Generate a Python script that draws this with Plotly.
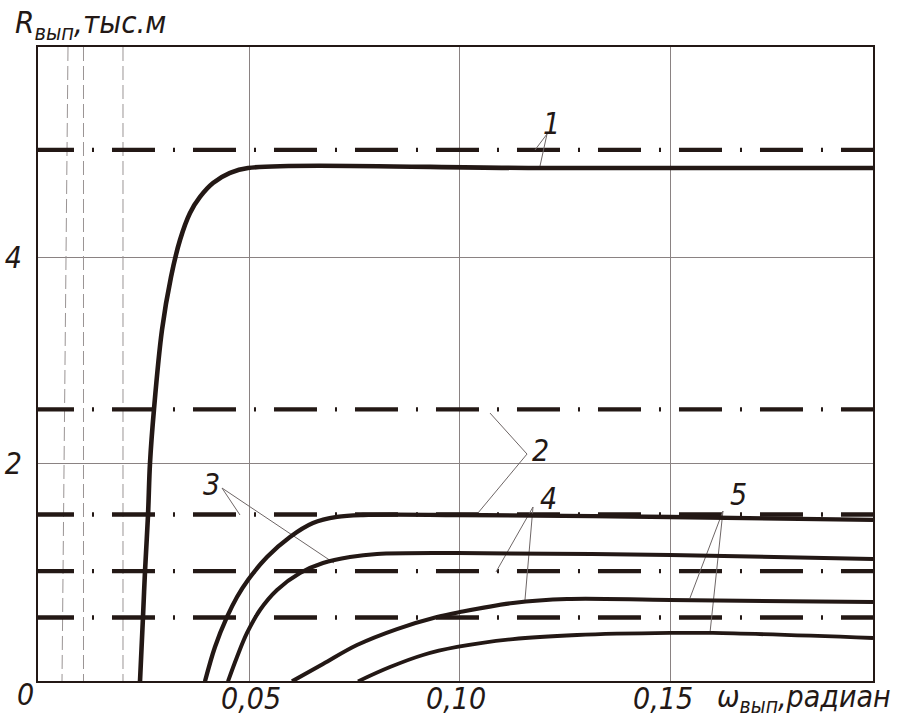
import plotly.graph_objects as go

# ---------------- data ----------------
x_ticks = [0.05, 0.10, 0.15]
x_tick_text = ["0,05", "0,10", "0,15"]
y_ticks = [2, 4]
y_tick_text = ["2", "4"]

# solid curves (omega, R thousand m)
c1_x = [0.02417, 0.02488, 0.02536, 0.02607, 0.02654, 0.02749, 0.02938, 0.03152, 0.03365,
        0.03602, 0.03839, 0.04147, 0.04550, 0.04976, 0.12, 0.19787]
c1_y = [-0.12, 0.505, 0.951, 1.495, 2.0, 2.524, 3.291, 3.806, 4.165,
        4.427, 4.583, 4.718, 4.816, 4.864, 4.864, 4.864]

c2_x = [0.03957, 0.04194, 0.04479, 0.04716, 0.04976, 0.05427, 0.05972, 0.06517, 0.07085,
        0.07701, 0.09953, 0.14976, 0.19787]
c2_y = [-0.12, 0.214, 0.505, 0.699, 0.864, 1.087, 1.282, 1.417, 1.476,
        1.495, 1.495, 1.476, 1.447]

c3_x = [0.04502, 0.04716, 0.04953, 0.05261, 0.05664, 0.06209, 0.06754, 0.07393, 0.08033,
        0.09929, 0.14976, 0.19787]
c3_y = [-0.12, 0.117, 0.350, 0.573, 0.767, 0.932, 1.029, 1.087, 1.117,
        1.126, 1.107, 1.068]

c4_x = [0.06019, 0.06754, 0.07559, 0.08507, 0.09455, 0.10000, 0.11256, 0.12536,
        0.14976, 0.19787]
c4_y = [-0.12, 0.049, 0.233, 0.388, 0.505, 0.553, 0.641, 0.680,
        0.670, 0.650]

c5_x = [0.07583, 0.08341, 0.09123, 0.09929, 0.11256, 0.12773, 0.14976, 0.15995, 0.19787]
c5_y = [-0.12, 0.019, 0.136, 0.214, 0.291, 0.330, 0.350, 0.350, 0.301]

# dash-dot horizontal limit levels
limit_levels = [5.04, 2.52, 1.50, 0.95, 0.50]

# thin dashed vertical lines (top x, bottom x)
vlines_top = [0.00711, 0.01078, 0.02014]
vlines_bottom = [0.00569, 0.01078, 0.02014]

# callout labels: text, label position, vertex, two targets
callouts = [
    ("1", (0.12180, 5.301), (0.12062, 5.194), (0.11777, 5.039), (0.11896, 4.883)),
    ("2", (0.11896, 2.126), (0.11588, 2.087), (0.10711, 2.485), (0.10427, 1.515)),
    ("3", (0.04123, 1.796), (0.04360, 1.757), (0.04787, 1.495), (0.07014, 1.029)),
    ("4", (0.12109, 1.660), (0.11730, 1.573), (0.10853, 0.942), (0.11540, 0.670)),
    ("5", (0.16588, 1.699), (0.16232, 1.534), (0.15450, 0.689), (0.15924, 0.350)),
]

X_MIN, X_MAX = 0.0, 0.19787
Y_MIN, Y_MAX = -0.1165, 6.039

INK = "#231815"
GRID = "#8a8282"
FONT = "Liberation Sans Narrow, DejaVu Sans Condensed, Roboto Condensed, Roboto, sans-serif"

fig = go.Figure()

# thin dashed verticals
for xt, xb in zip(vlines_top, vlines_bottom):
    fig.add_trace(go.Scatter(x=[xt, xb], y=[Y_MAX, Y_MIN], mode="lines",
                             line=dict(color="#9a9494", width=1, dash="14px,5px"),
                             hoverinfo="skip"))

# dash-dot levels
for lv in limit_levels:
    fig.add_trace(go.Scatter(x=[-0.00166, X_MAX + 0.002], y=[lv, lv], mode="lines",
                             line=dict(color=INK, width=4.3, dash="43px,18px,2px,18px"),
                             hoverinfo="skip"))

# callout leader lines
for txt, lab, vtx, t1, t2 in callouts:
    fig.add_trace(go.Scatter(x=[t1[0], vtx[0], t2[0]], y=[t1[1], vtx[1], t2[1]],
                             mode="lines", line=dict(color="#6e6666", width=1),
                             hoverinfo="skip"))

# solid curves
for cx, cy, w in [(c1_x, c1_y, 4.6), (c2_x, c2_y, 4.3), (c3_x, c3_y, 4.0),
                  (c4_x, c4_y, 4.0), (c5_x, c5_y, 3.8)]:
    fig.add_trace(go.Scatter(x=cx, y=cy, mode="lines",
                             line=dict(color=INK, width=w, shape="spline", smoothing=1.0),
                             hoverinfo="skip"))

label_font = dict(size=30, color=INK, family=FONT, style="italic")

annotations = []
for txt, lab, vtx, t1, t2 in callouts:
    annotations.append(dict(x=lab[0], y=lab[1], xref="x", yref="y", text=txt,
                            showarrow=False, xanchor="center", yanchor="middle",
                            font=dict(size=30, color=INK, family=FONT, style="italic")))

# x tick labels (placed just below the frame)
for tv, tt, sh in zip(x_ticks, x_tick_text, [2, -4, -8]):
    annotations.append(dict(x=tv, y=-0.027, xref="x", yref="paper", text=tt,
                            showarrow=False, xanchor="center", yanchor="middle",
                            xshift=sh, font=label_font))

annotations.append(dict(x=-0.030, y=1.035, xref="paper", yref="paper",
                        text="R<sub>вып</sub>,тыс.м", showarrow=False,
                        xanchor="left", yanchor="middle",
                        font=dict(size=31, color=INK, family=FONT, style="italic")))
annotations.append(dict(x=0.811, y=-0.027, xref="paper", yref="paper",
                        text="ω<sub>вып</sub>,радиан", showarrow=False,
                        xanchor="left", yanchor="middle",
                        font=dict(size=30, color=INK, family=FONT, style="italic")))
annotations.append(dict(x=-0.0144, y=-0.021, xref="paper", yref="paper",
                        text="0", showarrow=False, xanchor="center", yanchor="middle",
                        font=dict(size=30, color=INK, family=FONT, style="italic")))

fig.update_layout(
    width=910, height=722,
    margin=dict(l=38, r=37, t=47, b=41),
    paper_bgcolor="white", plot_bgcolor="white",
    showlegend=False,
    font=dict(family=FONT, color=INK),
    annotations=annotations,
    xaxis=dict(range=[X_MIN, X_MAX], tickvals=x_ticks, ticktext=x_tick_text,
               showticklabels=False,
               showgrid=True, gridcolor=GRID, gridwidth=1, zeroline=False,
               showline=True, mirror=True, linecolor=INK, linewidth=2,
               ticks="", automargin=False),
    yaxis=dict(range=[Y_MIN, Y_MAX], tickvals=y_ticks, ticktext=y_tick_text,
               showgrid=True, gridcolor=GRID, gridwidth=1, zeroline=False,
               showline=True, mirror=True, linecolor=INK, linewidth=2,
               ticks="", ticklabelstandoff=8, automargin=False,
               tickfont=label_font),
)

fig.write_html("out.html")
